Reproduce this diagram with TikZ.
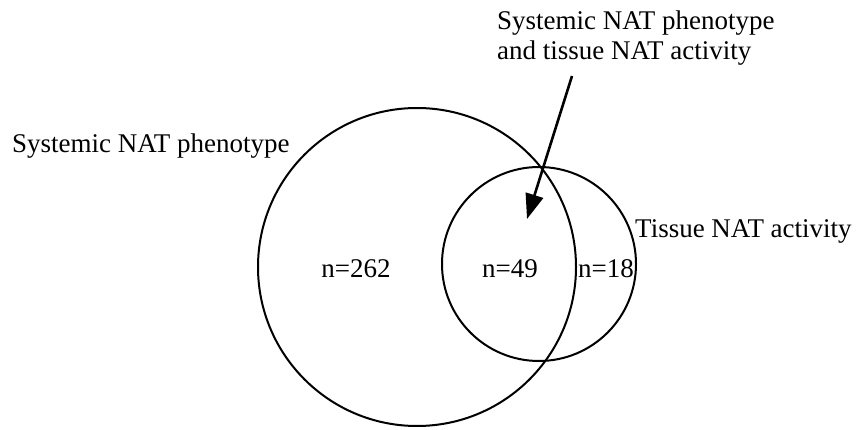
\documentclass[tikz,border=0pt]{standalone}
\usepackage{fontspec}
\setmainfont{Liberation Serif}
\usetikzlibrary{arrows.meta}

\begin{document}
\begin{tikzpicture}[x=1pt,y=-1pt]
\tikzset{
  vennset/.style={circle,draw=black,line width=2pt,inner sep=0pt},
  vennlabel/.style={inner sep=0pt,font=\fontsize{27}{30}\selectfont},
  pointer/.style={draw=black,line width=2.6pt,-{Triangle[length=25pt,width=18pt]}}
}
\useasboundingbox (0,0) rectangle (859,430);
% the two sets
\node[vennset,minimum size=318pt] (c_sys) at (417,267) {};
\node[vennset,minimum size=194pt] (c_tis) at (539,264) {};
% set names
\node[vennlabel,anchor=base west] (l_sys) at (12,153) {Systemic NAT phenotype};
\node[vennlabel,anchor=base west] (l_tis) at (635,238) {Tissue NAT activity};
\node[vennlabel,anchor=base west,align=left] (l_both) at (497,60)
  {Systemic NAT phenotype\\and tissue NAT activity};
% counts
\node[vennlabel,anchor=base] (n_sys) at (356,277) {n=262};
\node[vennlabel,anchor=base] (n_both) at (510,277) {n=49};
\node[vennlabel,anchor=base] (n_tis) at (606,277) {n=18};
% arrow into the overlap
\coordinate (a_from) at (572,76);
\coordinate (a_to) at (527,219);
\draw[pointer] (a_from) -- (a_to);
\end{tikzpicture}
\end{document}
